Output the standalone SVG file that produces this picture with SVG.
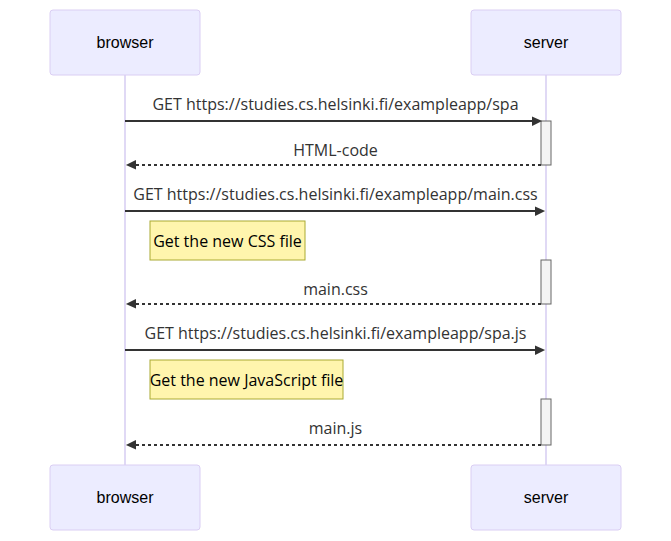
<svg xmlns="http://www.w3.org/2000/svg" width="671" height="541" viewBox="0 0 671 541">
<style>
.actor{fill:#ECECFF;stroke:#DACEF3;stroke-width:1}
.actor-text{font-family:"Liberation Sans",Arial,sans-serif;font-size:16px;fill:#000;text-anchor:middle;dominant-baseline:central}
.lifeline{stroke:#D6CCF2;stroke-width:1.5}
.msg{stroke:#333;stroke-width:2;fill:none}
.dash{stroke-dasharray:3,3}
.msg-text{font-family:"Open Sans",sans-serif;font-size:16px;fill:#333;text-anchor:middle}
.note{fill:#FFF5AD;stroke:#AAAA33;stroke-width:1}
.note-text{font-family:"Open Sans",sans-serif;font-size:16px;fill:#000;text-anchor:middle}
.activation{fill:#F4F4F4;stroke:#666;stroke-width:1}
</style>
<defs>
<marker id="arrowhead" refX="7.9" refY="5" markerUnits="userSpaceOnUse" markerWidth="12" markerHeight="12" orient="auto">
<path d="M -1 0 L 10 5 L 0 10 z" fill="#333" stroke="none"/>
</marker>
</defs>
<rect width="671" height="541" fill="#fff"/>
<g id="lifelines">
<line class="lifeline" x1="125" y1="75" x2="125" y2="465"/>
<line class="lifeline" x1="546" y1="75" x2="546" y2="465"/>
</g>
<g id="actor-browser-top">
<rect class="actor" x="50" y="10" width="150" height="65" rx="3"/>
<text class="actor-text" x="125" y="42.5">browser</text>
</g>
<g id="actor-server-top">
<rect class="actor" x="471" y="10" width="150" height="65" rx="3"/>
<text class="actor-text" x="546" y="42.5">server</text>
</g>
<g id="actor-browser-bottom">
<rect class="actor" x="50" y="465" width="150" height="65" rx="3"/>
<text class="actor-text" x="125" y="497.5">browser</text>
</g>
<g id="actor-server-bottom">
<rect class="actor" x="471" y="465" width="150" height="65" rx="3"/>
<text class="actor-text" x="546" y="497.5">server</text>
</g>
<g id="activations">
<rect class="activation" x="541" y="121" width="10" height="44"/>
<rect class="activation" x="541" y="260" width="10" height="44"/>
<rect class="activation" x="541" y="399" width="10" height="46"/>
</g>
<g id="note-css">
<rect class="note" x="150" y="221" width="155" height="39"/>
<text class="note-text" x="227.5" y="246.5">Get the new CSS file</text>
</g>
<g id="note-js">
<rect class="note" x="150" y="360" width="193" height="39"/>
<text class="note-text" x="246.5" y="385.5">Get the new JavaScript file</text>
</g>
<g id="connectors">
<line class="msg" x1="125" y1="121" x2="540" y2="121" marker-end="url(#arrowhead)"/>
<text class="msg-text" x="335.5" y="110">GET https://studies.cs.helsinki.fi/exampleapp/spa</text>
<line class="msg dash" x1="541" y1="165" x2="128" y2="165" marker-end="url(#arrowhead)"/>
<text class="msg-text" x="335.5" y="156">HTML-code</text>
<line class="msg" x1="125" y1="211" x2="543" y2="211" marker-end="url(#arrowhead)"/>
<text class="msg-text" x="335.5" y="199.5">GET https://studies.cs.helsinki.fi/exampleapp/main.css</text>
<line class="msg dash" x1="541" y1="304" x2="128" y2="304" marker-end="url(#arrowhead)"/>
<text class="msg-text" x="335.5" y="295">main.css</text>
<line class="msg" x1="125" y1="350" x2="543" y2="350" marker-end="url(#arrowhead)"/>
<text class="msg-text" x="335.5" y="339">GET https://studies.cs.helsinki.fi/exampleapp/spa.js</text>
<line class="msg dash" x1="541" y1="445" x2="128" y2="445" marker-end="url(#arrowhead)"/>
<text class="msg-text" x="335.5" y="434">main.js</text>
</g>
</svg>
